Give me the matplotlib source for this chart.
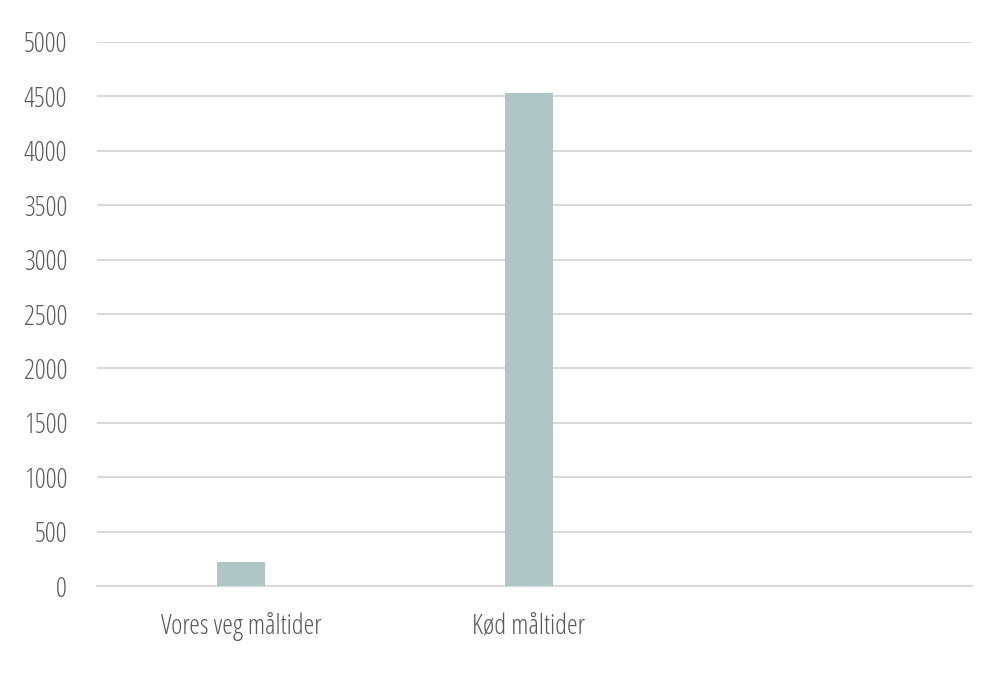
import matplotlib
matplotlib.use("Agg")
import matplotlib.pyplot as plt
from matplotlib import font_manager

categories = ['Vores veg måltider', 'Kød måltider', '']
values = [220, 4530, 0]

# Open Sans Condensed Light, fall back to Open Sans
cond = [f.fname for f in font_manager.fontManager.ttflist if f.fname.endswith('OpenSans-CondLight.ttf')]
if cond:
    fp = font_manager.FontProperties(fname=cond[0], size=19.5)
else:
    fp = font_manager.FontProperties(family='Open Sans', size=15)

text_color = '#595959'
grid_color = '#d9d9d9'
bar_color = '#aec6c6'

fig = plt.figure(figsize=(10.03, 6.85), dpi=100)
ax = fig.add_axes([0.0967, 0.1445, 0.872, 0.7942])

x = list(range(len(categories)))
ax.bar(x, values, width=0.167, color=bar_color, zorder=3)

ax.set_xlim(-0.5, 2.538)
ax.set_ylim(0, 5000)
ax.set_yticks(range(0, 5001, 500))
ax.set_xticks(x)
ax.set_xticklabels(categories)
for lab in ax.get_xticklabels() + ax.get_yticklabels():
    lab.set_fontproperties(fp)

ax.grid(axis='y', color=grid_color, linewidth=1.5, zorder=0)
ax.tick_params(axis='both', length=0, colors=text_color)
ax.tick_params(axis='y', pad=21.5)
ax.tick_params(axis='x', pad=19)
for s in ['top', 'right', 'left']:
    ax.spines[s].set_visible(False)
ax.spines['bottom'].set_color(grid_color)
ax.spines['bottom'].set_linewidth(1.5)

fig.savefig('out.png', dpi=100)
